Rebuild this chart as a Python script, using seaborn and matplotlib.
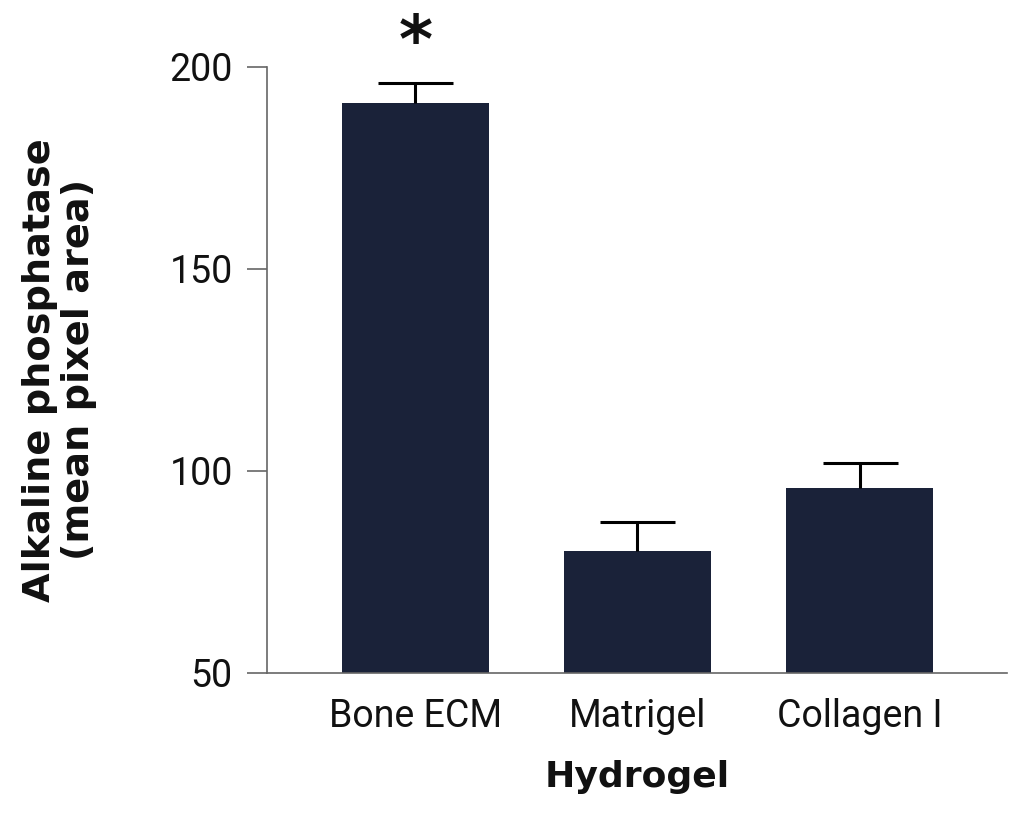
import pandas as pd
import matplotlib
matplotlib.use('Agg')
import matplotlib.pyplot as plt
import seaborn as sns

# data
hydrogels = ['Bone ECM', 'Matrigel', 'Collagen I']
alp_mean = [190.9, 80.2, 95.8]
alp_err = [5.1, 7.0, 6.1]
signif = ['*', '', '']

bar_color = '#1a2239'
spine_color = '#666666'

sns.set_theme(style='white')
plt.rcParams['font.family'] = ['Roboto', 'DejaVu Sans']

df = pd.DataFrame({'Hydrogel': hydrogels, 'ALP': alp_mean, 'err': alp_err})

fig = plt.figure(figsize=(10.24, 8.23), dpi=100)
ax = fig.add_axes([0.2604, 0.1826, 0.7230, 0.7364])

sns.barplot(data=df, x='Hydrogel', y='ALP', color=bar_color, saturation=1,
            width=0.664, errorbar=None, linewidth=0, ax=ax)

# upper error bar only (no cap at the bar top)
eb = ax.errorbar(range(len(hydrogels)), df['ALP'],
                 yerr=[[0] * len(hydrogels), df['err']],
                 fmt='none', ecolor='black', elinewidth=2.2, capsize=27,
                 capthick=2.2, zorder=3)
eb[1][0].set_visible(False)

for i, s in enumerate(signif):
    if s:
        ax.annotate(s, xy=(i, alp_mean[i] + alp_err[i]), xytext=(0, 5),
                    textcoords='offset points', ha='center', va='bottom',
                    fontsize=47, fontweight='bold', family='DejaVu Sans',
                    color='#111111', annotation_clip=False)

ax.set_ylim(50, 200)
ax.set_xlim(-0.669, 2.663)
ax.set_yticks([50, 100, 150, 200])

for side in ['top', 'right']:
    ax.spines[side].set_visible(False)
for side in ['left', 'bottom']:
    ax.spines[side].set_color(spine_color)
    ax.spines[side].set_linewidth(1.2)

ax.tick_params(axis='y', length=14.4, width=1.2, color=spine_color,
               pad=10, labelsize=27, left=True, labelcolor='#111111')
ax.tick_params(axis='x', length=0, pad=18, labelsize=27,
               labelcolor='#111111')

ax.set_xlabel('Hydrogel', fontsize=26, fontweight='bold',
              family='DejaVu Sans', labelpad=18, color='#111111')
ax.set_ylabel('Alkaline phosphatase\n(mean pixel area)', fontsize=27.5,
              fontweight='bold', family='DejaVu Sans', linespacing=1.1,
              color='#111111')
ax.yaxis.set_label_coords(-0.229, 0.5)

fig.savefig('out.png', dpi=100)
